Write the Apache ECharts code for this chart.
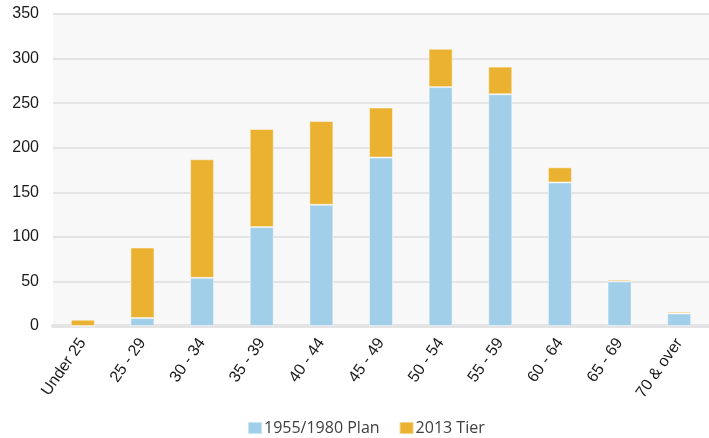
<!DOCTYPE html>
<html>
<head>
<meta charset="utf-8">
<script src="https://cdn.jsdelivr.net/npm/echarts@6/dist/echarts.min.js"></script>
<style>
  html, body { margin: 0; padding: 0; background: #ffffff; }
  #chart { width: 709px; height: 438px; }
</style>
</head>
<body>
<div id="chart"></div>
<script>
// Age bands along the x axis
const categories = ['Under 25', '25 - 29', '30 - 34', '35 - 39', '40 - 44', '45 - 49',
                    '50 - 54', '55 - 59', '60 - 64', '65 - 69', '70 & over'];
// Members in the 1955/1980 plan per age band
const plan19551980 = [0, 9, 54, 111, 136, 189, 268, 260, 161, 50, 14];
// Members in the 2013 tier per age band (stacked on top)
const tier2013 = [7, 79, 133, 110, 94, 56, 43, 31, 17, 2, 2];
// Value axis ticks
const yTicks = [0, 50, 100, 150, 200, 250, 300, 350];

const chart = echarts.init(document.getElementById('chart'), null, { renderer: 'canvas' });

chart.setOption({
  animation: false,
  backgroundColor: '#ffffff',
  grid: {
    left: 53, right: -9, top: 14, bottom: 112,
    show: true, backgroundColor: '#f8f8f8', borderWidth: 0
  },
  legend: {
    top: 420,
    left: 247,
    padding: 0,
    itemWidth: 14, itemHeight: 12, itemGap: 19,
    icon: 'rect',
    textStyle: { fontFamily: 'Open Sans', fontSize: 16, lineHeight: 16, color: '#404040', padding: [0, 0, 0, -3] },
    data: ['1955/1980 Plan', '2013 Tier']
  },
  xAxis: {
    type: 'category',
    data: categories,
    axisLine: { show: true, lineStyle: { color: '#e4e4e4', width: 4 } },
    axisTick: { show: false },
    axisLabel: {
      rotate: 55, interval: 0, margin: 14,
      fontFamily: 'Liberation Sans', fontSize: 16, color: '#1a1a1a'
    }
  },
  yAxis: {
    type: 'value',
    min: yTicks[0], max: yTicks[yTicks.length - 1], interval: 50,
    axisLine: { show: false },
    axisTick: { show: false },
    splitLine: { lineStyle: { color: '#e4e4e4', width: 2 } },
    axisLabel: { fontFamily: 'Liberation Sans', fontSize: 16, color: '#1a1a1a', margin: 14 }
  },
  series: [
    {
      name: '1955/1980 Plan', type: 'bar', stack: 'total', barWidth: 24,
      itemStyle: { color: '#a1cfea', borderColor: 'rgba(255,255,255,0.45)', borderWidth: 1 },
      data: plan19551980
    },
    {
      name: '2013 Tier', type: 'bar', stack: 'total', barWidth: 24,
      itemStyle: { color: '#ebb130', borderColor: 'rgba(255,255,255,0.45)', borderWidth: 1 },
      data: tier2013
    }
  ]
});
</script>
</body>
</html>
